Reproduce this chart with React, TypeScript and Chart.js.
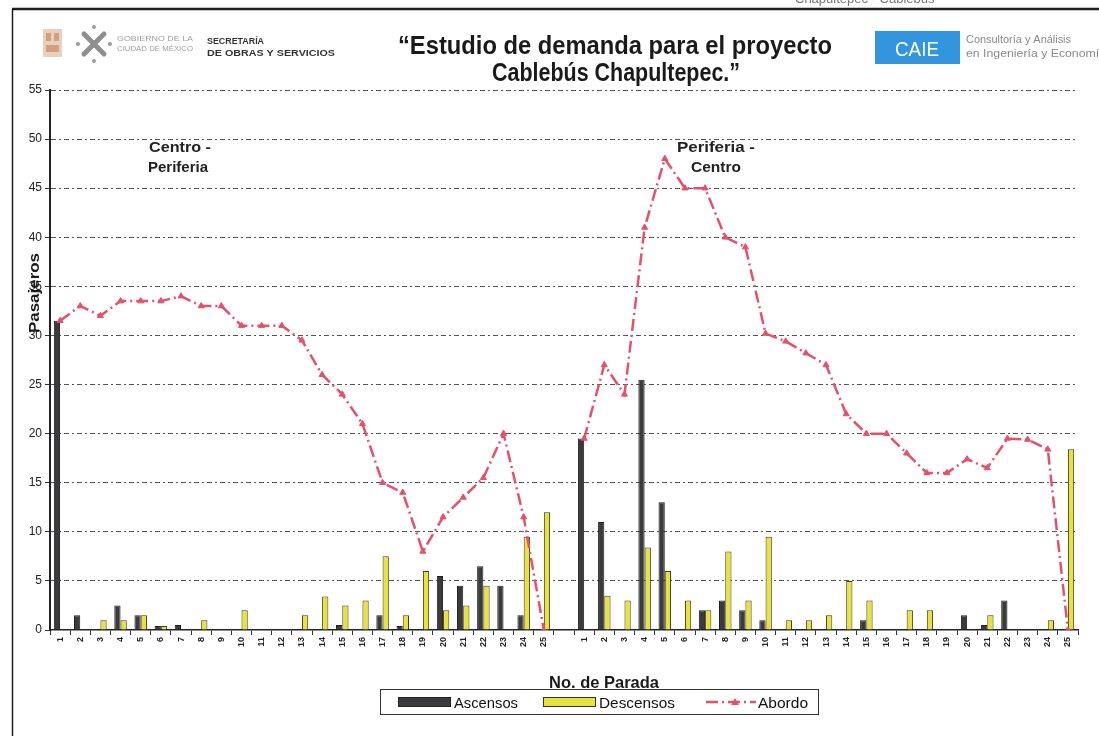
import React, { useEffect, useRef } from "react";
import { Chart, registerables } from "chart.js";

Chart.register(...registerables);

// ---------- DATA ----------
const paradaLabelsCP = ["1", "2", "3", "4", "5", "6", "7", "8", "9", "10", "11", "12", "13", "14", "15", "16", "17", "18", "19", "20", "21", "22", "23", "24", "25"];
const paradaLabelsPC = ["1", "2", "3", "4", "5", "6", "7", "8", "9", "10", "11", "12", "13", "14", "15", "16", "17", "18", "19", "20", "21", "22", "23", "24", "25"];

// Centro - Periferia
const ascensosCP = [31.5, 1.5, 0, 2.5, 1.5, 0.4, 0.5, 0, 0, 0, 0, 0, 0, 0, 0.5, 0, 1.5, 0.4, 0, 5.5, 4.5, 6.5, 4.5, 1.5, 0];
const descensosCP = [0, 0, 1, 1, 1.5, 0.4, 0, 1, 0, 2, 0, 0, 1.5, 3.4, 2.5, 3, 7.5, 1.5, 6, 2, 2.5, 4.5, 0, 9.5, 12];
const abordoCP = [31.5, 33, 32, 33.5, 33.5, 33.5, 34, 33, 33, 31, 31, 31, 29.5, 26, 24, 21, 15, 14, 8, 11.5, 13.5, 15.5, 20, 11.5, 0];

// Periferia - Centro
const ascensosPC = [19.5, 11, 0, 25.5, 13, 0, 2, 3, 2, 1, 0, 0, 0, 0, 1, 0, 0, 0, 0, 1.5, 0.5, 3, 0, 0, 0];
const descensosPC = [0, 3.5, 3, 8.4, 6, 3, 2, 8, 3, 9.5, 1, 1, 1.5, 5, 3, 0, 2, 2, 0, 0, 1.5, 0, 0, 1, 18.4];
const abordoPC = [19.5, 27, 24, 41, 48, 45, 45, 40, 39, 30.2, 29.4, 28.2, 27, 22, 20, 20, 18, 16, 16, 17.4, 16.5, 19.5, 19.4, 18.4, 0];

const yTicks = [0, 5, 10, 15, 20, 25, 30, 35, 40, 45, 50, 55];

// ---------- STYLE ----------
const COLOR_ASC = "#3b3b3e";
const COLOR_DESC = "#e9e13c";
const COLOR_ABORDO = "#e5506b";
const FONT = "'Liberation Sans', Arial, sans-serif";
const NARROW = "'Liberation Sans Narrow', 'Liberation Sans', Arial, sans-serif";

const labels = [...paradaLabelsCP, "", ...paradaLabelsPC];
const join = (a: number[], b: number[]) => [...a, null, ...b];

function fitText(
  ctx: CanvasRenderingContext2D,
  text: string,
  x: number,
  y: number,
  font: string,
  color: string,
  width: number | null,
  align: "left" | "center" = "left"
) {
  ctx.save();
  ctx.font = font;
  ctx.fillStyle = color;
  ctx.textBaseline = "alphabetic";
  ctx.textAlign = "left";
  const w = ctx.measureText(text).width;
  const sx = width ? width / w : 1;
  ctx.translate(x, y);
  ctx.scale(sx, 1);
  ctx.fillText(text, align === "center" ? -w / 2 : 0, 0);
  ctx.restore();
}

const decorPlugin = {
  id: "decor",
  beforeDraw(chart: any) {
    const ctx: CanvasRenderingContext2D = chart.ctx;
    ctx.save();
    ctx.fillStyle = "#ffffff";
    ctx.fillRect(0, 0, chart.width, chart.height);

    // cut-off running header
    fitText(ctx, "Chapultepec - Cablebús", 795, 3, `13px ${FONT}`, "#777", null);

    // frame
    ctx.strokeStyle = "#1e1e1e";
    ctx.lineWidth = 2.5;
    ctx.beginPath();
    ctx.moveTo(12, 9);
    ctx.lineTo(1099, 9);
    ctx.stroke();
    ctx.lineWidth = 1.5;
    ctx.beginPath();
    ctx.moveTo(12.5, 9);
    ctx.lineTo(12.5, 736);
    ctx.stroke();

    // left emblem
    ctx.fillStyle = "rgba(214,170,130,0.55)";
    ctx.fillRect(43, 29, 19, 28);
    ctx.fillStyle = "rgba(190,120,80,0.55)";
    ctx.fillRect(46, 33, 5, 8);
    ctx.fillRect(54, 33, 5, 8);
    ctx.fillRect(46, 45, 13, 7);

    // CDMX mark
    ctx.strokeStyle = "#8f8f8f";
    ctx.lineWidth = 5;
    ctx.lineCap = "round";
    ctx.beginPath();
    ctx.moveTo(84, 34);
    ctx.lineTo(104, 54);
    ctx.moveTo(104, 34);
    ctx.lineTo(84, 54);
    ctx.stroke();
    ctx.fillStyle = "#9a9a9a";
    [[94, 27], [94, 61], [78, 44], [110, 44]].forEach(([cx, cy]) => {
      ctx.beginPath();
      ctx.arc(cx, cy, 2, 0, Math.PI * 2);
      ctx.fill();
    });
    fitText(ctx, "GOBIERNO DE LA", 117, 41, `7px ${FONT}`, "#a0a0a0", 76);
    fitText(ctx, "CIUDAD DE MÉXICO", 117, 51, `7px ${FONT}`, "#a0a0a0", 76);

    fitText(ctx, "SECRETARÍA", 207, 44, `bold 9px ${FONT}`, "#333", 57);
    fitText(ctx, "DE OBRAS Y SERVICIOS", 207, 56, `bold 9px ${FONT}`, "#333", 128);

    // title
    fitText(ctx, "“Estudio de demanda para el proyecto", 615, 54, `bold 26px ${NARROW}`, "#1a1a1a", 434, "center");
    fitText(ctx, "Cablebús Chapultepec.”", 616, 81, `bold 26px ${NARROW}`, "#1a1a1a", 248, "center");

    // CAIE logo
    ctx.fillStyle = "#3395de";
    ctx.fillRect(875, 31, 85, 33);
    fitText(ctx, "CAIE", 917, 56, `21px ${NARROW}`, "#ffffff", 44, "center");
    fitText(ctx, "Consultoría y Análisis", 966, 43, `10px ${FONT}`, "#8a8a8a", 105);
    fitText(ctx, "en Ingeniería y Economía", 966, 57, `10px ${FONT}`, "#8a8a8a", 140);
    ctx.restore();
  },
  afterDraw(chart: any) {
    const ctx: CanvasRenderingContext2D = chart.ctx;
    ctx.save();
    // direction annotations
    fitText(ctx, "Centro -", 180, 152, `bold 15px ${NARROW}`, "#222", 62, "center");
    fitText(ctx, "Periferia", 178, 172, `bold 15px ${NARROW}`, "#222", 60, "center");
    fitText(ctx, "Periferia -", 716, 152, `bold 15px ${NARROW}`, "#222", 78, "center");
    fitText(ctx, "Centro", 716, 172, `bold 15px ${NARROW}`, "#222", 50, "center");

    // y title
    ctx.save();
    ctx.translate(39, 293);
    ctx.rotate(-Math.PI / 2);
    fitText(ctx, "Pasajeros", 0, 0, `bold 15px ${NARROW}`, "#1a1a1a", 80, "center");
    ctx.restore();

    // x title
    fitText(ctx, "No. de Parada", 604, 688, `bold 17px ${NARROW}`, "#1a1a1a", 110, "center");

    // legend box
    ctx.fillStyle = "#ffffff";
    ctx.fillRect(380, 689, 438, 25);
    ctx.strokeStyle = "#333";
    ctx.lineWidth = 1;
    ctx.strokeRect(380.5, 689.5, 438, 25);

    ctx.fillStyle = COLOR_ASC;
    ctx.fillRect(398, 697, 52, 9);
    ctx.strokeStyle = "#222";
    ctx.strokeRect(398.5, 697.5, 52, 9);
    fitText(ctx, "Ascensos", 454, 708, `15px ${NARROW}`, "#111", 64);

    ctx.fillStyle = COLOR_DESC;
    ctx.fillRect(543, 697, 52, 9);
    ctx.strokeStyle = "#333";
    ctx.strokeRect(543.5, 697.5, 52, 9);
    fitText(ctx, "Descensos", 599, 708, `15px ${NARROW}`, "#111", 76);

    ctx.strokeStyle = COLOR_ABORDO;
    ctx.lineWidth = 2.5;
    ctx.setLineDash([12, 4, 2, 4]);
    ctx.beginPath();
    ctx.moveTo(706, 702);
    ctx.lineTo(756, 702);
    ctx.stroke();
    ctx.setLineDash([]);
    ctx.fillStyle = COLOR_ABORDO;
    ctx.beginPath();
    ctx.moveTo(735, 698);
    ctx.lineTo(739, 705);
    ctx.lineTo(731, 705);
    ctx.closePath();
    ctx.fill();
    fitText(ctx, "Abordo", 758, 708, `15px ${NARROW}`, "#111", 50);
    ctx.restore();
  },
};

export default function App() {
  const ref = useRef<HTMLCanvasElement>(null);

  useEffect(() => {
    const canvas = ref.current;
    if (!canvas) return;
    const chart = new Chart(canvas, {
      type: "bar",
      data: {
        labels,
        datasets: [
          {
            type: "line",
            label: "Abordo",
            data: join(abordoCP, abordoPC),
            borderColor: COLOR_ABORDO,
            backgroundColor: COLOR_ABORDO,
            borderWidth: 2.5,
            borderDash: [12, 4, 2, 4],
            pointStyle: "triangle",
            pointRadius: 3.5,
            pointBackgroundColor: COLOR_ABORDO,
            pointBorderColor: COLOR_ABORDO,
            pointBorderWidth: 1,
            tension: 0,
            spanGaps: false,
            order: 0,
          } as any,
          {
            type: "bar",
            label: "Ascensos",
            data: join(ascensosCP, ascensosPC),
            backgroundColor: COLOR_ASC,
            borderColor: "#1f1f1f",
            borderWidth: 1,
            categoryPercentage: 0.62,
            barPercentage: 1,
            order: 1,
          },
          {
            type: "bar",
            label: "Descensos",
            data: join(descensosCP, descensosPC),
            backgroundColor: COLOR_DESC,
            borderColor: "#3a3a2a",
            borderWidth: 1,
            categoryPercentage: 0.62,
            barPercentage: 1,
            order: 1,
          },
        ],
      },
      options: {
        responsive: false,
        animation: false,
        layout: { padding: { top: 90, left: 10, right: 21, bottom: 0 } },
        plugins: {
          legend: { display: false },
          tooltip: { enabled: false },
          title: { display: false },
        },
        scales: {
          x: {
            offset: true,
            afterFit: (s: any) => {
              s.height = 106;
            },
            grid: {
              display: true,
              offset: true,
              drawOnChartArea: false,
              drawTicks: true,
              tickLength: 5,
              color: "#333",
            },
            border: { display: true, color: "#222", width: 1.5 },
            ticks: {
              autoSkip: false,
              minRotation: 90,
              maxRotation: 90,
              padding: 2,
              color: "#222",
              font: { family: FONT, size: 9, weight: "bold" },
            },
          },
          y: {
            min: 0,
            max: 55,
            afterFit: (s: any) => {
              s.width = 40;
            },
            afterBuildTicks: (s: any) => {
              s.ticks = yTicks.map((v) => ({ value: v }));
            },
            grid: {
              color: (c: any) => (c.tick && c.tick.value === 0 ? "rgba(0,0,0,0)" : "#555555"),
              lineWidth: 1,
              drawTicks: true,
              tickLength: 5,
              tickColor: "#333",
              tickBorderDash: [],
            } as any,
            border: { display: true, color: "#222", width: 2, dash: [5, 3, 2, 3] },
            ticks: {
              padding: 3,
              color: "#222",
              font: { family: FONT, size: 12 },
            },
          },
        },
      },
      plugins: [decorPlugin],
    });
    return () => chart.destroy();
  }, []);

  return (
    <div style={{ position: "fixed", left: 0, top: 0, width: 1099, height: 736, background: "#fff" }}>
      <canvas ref={ref} width={1099} height={736} style={{ display: "block", width: 1099, height: 736 }} />
    </div>
  );
}
